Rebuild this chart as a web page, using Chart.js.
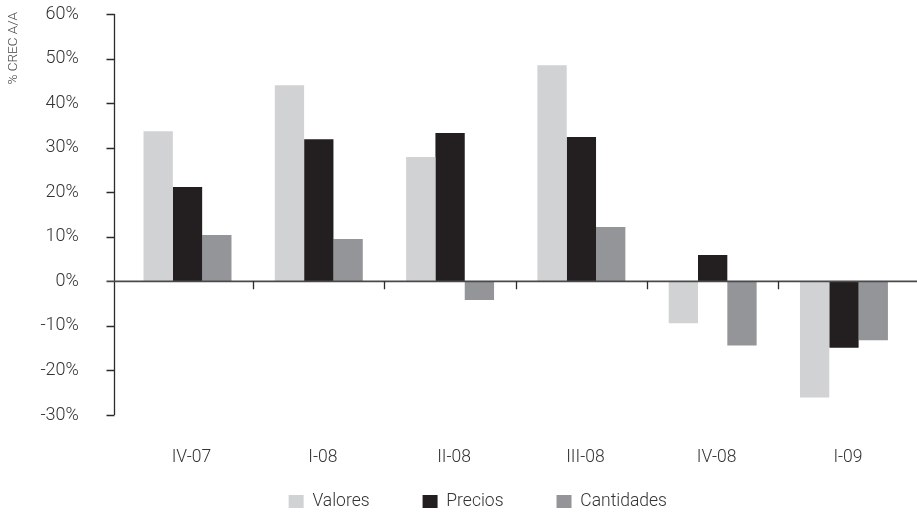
<!DOCTYPE html>
<html>
<head>
<meta charset="utf-8">
<script src="https://cdn.jsdelivr.net/npm/chart.js@4/dist/chart.umd.min.js"></script>
<style>
  html, body { margin: 0; padding: 0; background: #ffffff; }
  #wrap { width: 917px; height: 513px; }
</style>
</head>
<body>
<div id="wrap"><canvas id="chart" width="917" height="513"></canvas></div>
<script>
// Quarters on the category axis
const quarters = ['IV-07', 'I-08', 'II-08', 'III-08', 'IV-08', 'I-09'];

// Year-on-year growth, in percent
const valores    = [33.7, 44.0, 27.9, 48.5, -9.4, -26.1];
const precios    = [21.2, 31.9, 33.3, 32.4, 5.9, -14.9];
const cantidades = [10.4, 9.5, -4.2, 12.2, -14.4, -13.2];

// Value axis range and step
const yMin = -30;
const yMax = 60;
const yStep = 10;

const seriesNames = ['Valores', 'Precios', 'Cantidades'];
const seriesColors = ['#d1d2d4', '#231f20', '#939598'];

const TEXT = '#333333';
const FONT = 'Roboto, "Liberation Sans", sans-serif';
const Y_FONT = { family: FONT, size: 18, weight: '300' };
const X_FONT = { family: FONT, size: 17.5, weight: '300' };

// Plot frame: left padding (also centres the legend) and plot left edge
const PAD_LEFT = 46;
const PLOT_LEFT = 121.85;

// Width of the widest value label, so the labels can be right-aligned
// a fixed distance to the left of the plot.
const measureCtx = document.createElement('canvas').getContext('2d');
measureCtx.font = Y_FONT.weight + ' ' + Y_FONT.size + 'px ' + FONT;
let widestLabel = 0;
for (let v = yMin; v <= yMax; v += yStep) {
  widestLabel = Math.max(widestLabel, measureCtx.measureText(v + '%').width);
}
const labelGap = 43; // plot left edge to right edge of the value labels

// Draws the left axis frame, the zero baseline with category dividers,
// and the rotated unit caption.
const axisFrame = {
  id: 'axisFrame',
  afterDatasetsDraw(chart) {
    const { ctx, chartArea, scales } = chart;
    const x = scales.x, y = scales.y;
    const axisX = Math.round(chartArea.left - 8) + 0.5;
    const tickLen = 8;

    ctx.save();
    // vertical axis line and its ticks
    ctx.strokeStyle = '#2b2b2b';
    ctx.lineWidth = 1.3;
    ctx.beginPath();
    ctx.moveTo(axisX, y.getPixelForValue(yMax));
    ctx.lineTo(axisX, y.getPixelForValue(yMin));
    y.ticks.forEach(t => {
      if (t.value === 0) return;
      const py = Math.round(y.getPixelForValue(t.value)) + 0.5;
      ctx.moveTo(axisX - tickLen, py);
      ctx.lineTo(axisX, py);
    });
    ctx.stroke();

    // zero baseline across the plot
    const y0 = y.getPixelForValue(0);
    ctx.strokeStyle = '#4a4a4a';
    ctx.lineWidth = 1.6;
    ctx.beginPath();
    ctx.moveTo(axisX - tickLen, y0);
    ctx.lineTo(chart.width, y0);
    ctx.stroke();

    // dividers between quarters, hanging below the baseline
    ctx.strokeStyle = '#2b2b2b';
    ctx.lineWidth = 1.3;
    ctx.beginPath();
    for (let i = 0; i < quarters.length - 1; i++) {
      const px = Math.round((x.getPixelForValue(i) + x.getPixelForValue(i + 1)) / 2) + 0.5;
      ctx.moveTo(px, y0);
      ctx.lineTo(px, y0 + tickLen);
    }
    ctx.stroke();

    // unit caption, rotated along the axis
    ctx.translate(13.5, y.getPixelForValue(yMax) - 2);
    ctx.rotate(-Math.PI / 2);
    ctx.fillStyle = '#444444';
    ctx.font = '300 13.5px ' + FONT;
    ctx.textAlign = 'right';
    ctx.textBaseline = 'middle';
    ctx.fillText('% CREC A/A', 0, 0);
    ctx.restore();
  }
};

const datasets = [valores, precios, cantidades].map((values, i) => ({
  label: seriesNames[i],
  data: values,
  backgroundColor: seriesColors[i],
  borderWidth: 0,
  barPercentage: 1.0,
  categoryPercentage: 0.67
}));

new Chart(document.getElementById('chart'), {
  type: 'bar',
  data: { labels: quarters, datasets },
  plugins: [axisFrame],
  options: {
    responsive: false,
    animation: false,
    devicePixelRatio: 1,
    layout: {
      autoPadding: false,
      padding: { left: PAD_LEFT, right: 7.4, top: 14, bottom: -7.25 }
    },
    plugins: {
      tooltip: { enabled: false },
      legend: {
        position: 'bottom',
        labels: {
          boxWidth: 15,
          boxHeight: 13,
          padding: 53,
          color: TEXT,
          font: X_FONT
        }
      }
    },
    scales: {
      x: {
        grid: { display: false, drawTicks: false },
        border: { display: false },
        ticks: {
          color: TEXT,
          mirror: true,
          padding: -53.5,
          labelOffset: 4,
          maxRotation: 0,
          autoSkip: false,
          font: X_FONT
        },
        afterFit(scale) { scale.height = 24.75; }
      },
      y: {
        min: yMin,
        max: yMax,
        grid: { display: false, drawTicks: false },
        border: { display: false },
        ticks: {
          stepSize: yStep,
          color: TEXT,
          mirror: true,
          crossAlign: 'far',
          padding: -labelGap - widestLabel,
          font: Y_FONT,
          callback: v => v + '%'
        },
        afterFit(scale) { scale.width = PLOT_LEFT - PAD_LEFT; }
      }
    }
  }
});
</script>
</body>
</html>
